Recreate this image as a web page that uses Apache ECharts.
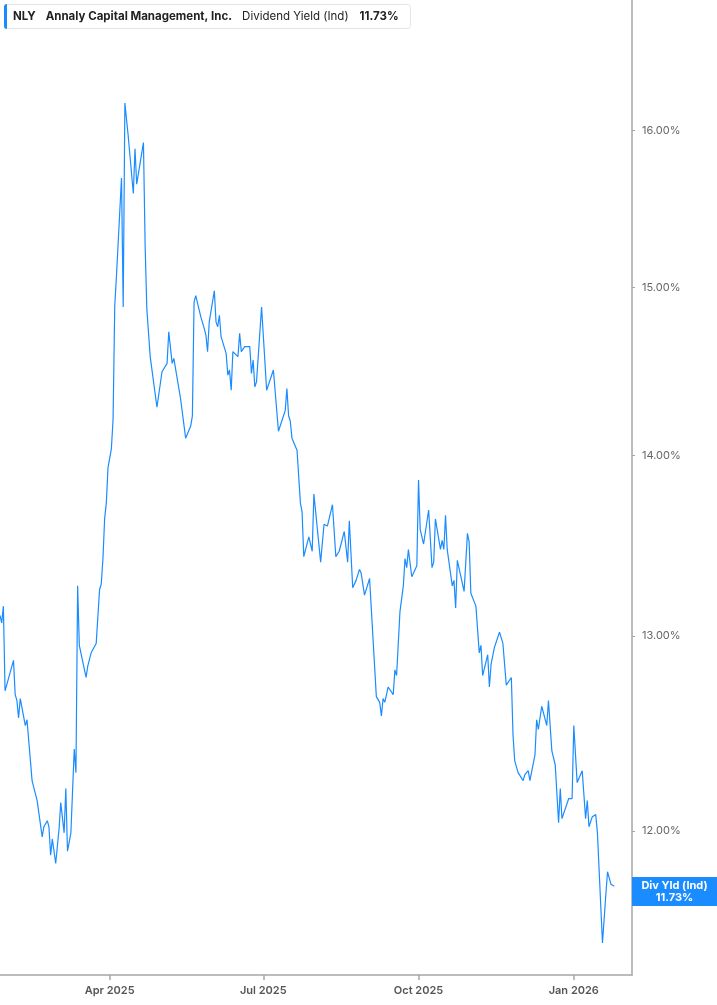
<!DOCTYPE html>
<html>
<head>
<meta charset="utf-8"/>
<title>NLY Dividend Yield</title>
<script src="https://cdn.jsdelivr.net/npm/echarts@6/dist/echarts.min.js"></script>
<style>
  html, body { margin: 0; padding: 0; background: #fff; }
  #chart { width: 717px; height: 1005px; }
</style>
</head>
<body>
<div id="chart"></div>
<script type="text/javascript">

// dividend yield (ind), %
var dates = [
  '2025-01-26','2025-01-27','2025-01-28','2025-01-29','2025-02-03','2025-02-04','2025-02-05','2025-02-06','2025-02-07','2025-02-10',
  '2025-02-11','2025-02-14','2025-02-17','2025-02-20','2025-02-21','2025-02-23','2025-02-24','2025-02-25','2025-02-26','2025-02-28',
  '2025-03-02','2025-03-03','2025-03-05','2025-03-06','2025-03-07','2025-03-09','2025-03-11','2025-03-12','2025-03-13','2025-03-14',
  '2025-03-18','2025-03-19','2025-03-21','2025-03-24','2025-03-26','2025-03-27','2025-03-28','2025-03-29','2025-03-30','2025-03-31',
  '2025-04-01','2025-04-02','2025-04-03','2025-04-04','2025-04-05','2025-04-08','2025-04-09','2025-04-10','2025-04-12','2025-04-15',
  '2025-04-16','2025-04-17','2025-04-21','2025-04-22','2025-04-23','2025-04-25','2025-04-29','2025-04-30','2025-05-02','2025-05-05',
  '2025-05-06','2025-05-08','2025-05-09','2025-05-13','2025-05-14','2025-05-16','2025-05-19','2025-05-20','2025-05-21','2025-05-22',
  '2025-05-25','2025-05-27','2025-05-28','2025-05-29','2025-05-30','2025-06-02','2025-06-03','2025-06-04','2025-06-05','2025-06-06',
  '2025-06-09','2025-06-10','2025-06-11','2025-06-12','2025-06-13','2025-06-16','2025-06-17','2025-06-18','2025-06-20','2025-06-23',
  '2025-06-24','2025-06-25','2025-06-26','2025-06-27','2025-06-30','2025-07-03','2025-07-07','2025-07-10','2025-07-12','2025-07-14',
  '2025-07-15','2025-07-16','2025-07-17','2025-07-18','2025-07-21','2025-07-23','2025-07-24','2025-07-25','2025-07-28','2025-07-30',
  '2025-07-31','2025-08-04','2025-08-06','2025-08-08','2025-08-11','2025-08-13','2025-08-15','2025-08-18','2025-08-20','2025-08-21',
  '2025-08-23','2025-08-25','2025-08-26','2025-08-27','2025-08-28','2025-08-30','2025-09-02','2025-09-06','2025-09-08','2025-09-09',
  '2025-09-10','2025-09-11','2025-09-13','2025-09-16','2025-09-17','2025-09-18','2025-09-20','2025-09-22','2025-09-23','2025-09-24',
  '2025-09-25','2025-09-27','2025-09-30','2025-10-01','2025-10-02','2025-10-04','2025-10-07','2025-10-09','2025-10-10','2025-10-11',
  '2025-10-14','2025-10-15','2025-10-16','2025-10-17','2025-10-18','2025-10-21','2025-10-22','2025-10-23','2025-10-24','2025-10-28',
  '2025-10-30','2025-10-31','2025-11-01','2025-11-04','2025-11-06','2025-11-07','2025-11-08','2025-11-11','2025-11-12','2025-11-13',
  '2025-11-14','2025-11-15','2025-11-18','2025-11-20','2025-11-21','2025-11-22','2025-11-25','2025-11-26','2025-11-27','2025-11-29',
  '2025-12-02','2025-12-03','2025-12-05','2025-12-06','2025-12-09','2025-12-10','2025-12-11','2025-12-13','2025-12-16','2025-12-17',
  '2025-12-19','2025-12-21','2025-12-23','2025-12-24','2025-12-25','2025-12-29','2025-12-31','2026-01-01','2026-01-03','2026-01-06',
  '2026-01-08','2026-01-09','2026-01-10','2026-01-12','2026-01-14','2026-01-15','2026-01-18','2026-01-20','2026-01-21','2026-01-23',
  '2026-01-25'
];
var yields = [
  13.11,13.07,13.16,12.71,12.87,12.69,12.66,12.57,12.67,12.53,
  12.56,12.25,12.15,11.97,12.02,12.05,12.02,11.88,11.96,11.84,
  12.01,12.14,11.99,12.21,11.90,11.99,12.41,12.29,13.27,12.95,
  12.78,12.84,12.91,12.96,13.25,13.28,13.42,13.64,13.73,13.93,
  13.92,14.04,14.21,14.89,15.07,15.69,14.88,16.18,15.96,15.59,
  15.88,15.65,15.92,15.26,14.87,14.58,14.28,14.29,14.49,14.54,
  14.73,14.54,14.57,14.33,14.34,14.10,14.17,14.23,14.91,14.95,
  14.82,14.75,14.71,14.61,14.79,14.98,14.79,14.76,14.83,14.70,
  14.60,14.47,14.50,14.38,14.61,14.58,14.72,14.61,14.64,14.64,
  14.48,14.56,14.40,14.43,14.88,14.38,14.50,14.14,14.20,14.26,
  14.39,14.23,14.20,14.10,14.03,13.73,13.68,13.43,13.54,13.46,
  13.78,13.40,13.61,13.60,13.72,13.43,13.46,13.57,13.40,13.63,
  13.26,13.30,13.29,13.36,13.34,13.22,13.31,12.68,12.65,12.58,
  12.67,12.65,12.73,12.69,12.82,12.79,13.13,13.27,13.42,13.37,
  13.47,13.32,13.38,13.86,13.58,13.50,13.69,13.37,13.40,13.64,
  13.47,13.52,13.47,13.66,13.47,13.27,13.30,13.15,13.41,13.24,
  13.56,13.51,13.23,13.16,12.91,12.95,12.79,12.90,12.73,12.85,
  12.86,12.94,13.02,12.96,12.95,12.74,12.78,12.48,12.35,12.29,
  12.25,12.28,12.30,12.25,12.38,12.56,12.51,12.63,12.53,12.66,
  12.40,12.33,12.04,12.21,12.06,12.16,12.16,12.53,12.24,12.30,
  12.06,12.15,12.02,12.07,12.08,11.99,11.46,11.69,11.80,11.74,
  11.73
];

var yTicks = [12, 13, 14, 15, 16];
var xTicks = ['2025-04-01', '2025-07-01', '2025-10-01', '2026-01-01'];
var monthNames = ['Jan','Feb','Mar','Apr','May','Jun','Jul','Aug','Sep','Oct','Nov','Dec'];

var ticker = 'NLY';
var company = 'Annaly Capital Management, Inc.';
var metric = 'Dividend Yield (Ind)';
var lastYield = yields[yields.length - 1];

var blue = '#1a8cff';
var axisGrey = '#a6a6a6';
var font = 'Inter, "Noto Sans", sans-serif';

function ts(s) { return new Date(s).getTime(); }

// chart has a log price scale -> plot ln(value) on a value axis
var seriesData = [];
for (var i = 0; i < dates.length; i++) {
    seriesData.push([ts(dates[i]), Math.log(yields[i])]);
}

var chart = echarts.init(document.getElementById('chart'));

var option = {
    animation: false,
    textStyle: { fontFamily: font },
    title: {
        left: 4,
        top: 4,
        padding: [0, 12, 0, 0],
        backgroundColor: '#fff',
        borderColor: '#e4e4e4',
        borderWidth: 1,
        borderRadius: 3,
        text: '{bar|}{sym|' + ticker + '}{name|' + company + '}{metric|' + metric + '}{val|' + lastYield.toFixed(2) + '%}',
        textStyle: {
            rich: {
                bar: { backgroundColor: blue, width: 3, height: 25, borderRadius: [3, 0, 0, 3] },
                sym: { fontFamily: font, fontSize: 11.5, fontWeight: 'bold', color: '#222', padding: [0, 0, 0, 6] },
                name: { fontFamily: font, fontSize: 11.5, fontWeight: 'bold', color: '#222', padding: [0, 0, 0, 10] },
                metric: { fontFamily: font, fontSize: 11.5, fontWeight: 'normal', color: '#222', padding: [0, 0, 0, 10] },
                val: { fontFamily: font, fontSize: 11.5, fontWeight: 'bold', color: '#222', padding: [0, 0, 0, 11] }
            }
        }
    },
    grid: {
        left: 0,
        right: 85,
        top: 0,
        bottom: 30,
        containLabel: false,
        outerBoundsMode: 'none'
    },
    xAxis: {
        type: 'value',
        min: ts('2025-01-26'),
        max: ts('2026-02-04T12:00:00Z'),
        axisLine: { show: true, lineStyle: { color: axisGrey, width: 1.5 } },
        axisTick: { show: true, customValues: xTicks.map(ts), length: 5, lineStyle: { color: axisGrey, width: 1.5 } },
        axisLabel: {
            customValues: xTicks.map(ts),
            color: '#555',
            fontSize: 11,
            fontWeight: 600,
            margin: 10,
            formatter: function (v) {
                var d = new Date(v);
                return monthNames[d.getUTCMonth()] + ' ' + d.getUTCFullYear();
            }
        },
        splitLine: { show: false }
    },
    yAxis: {
        type: 'value',
        position: 'right',
        min: Math.log(11.31),
        max: Math.log(16.88),
        axisLine: { show: true, lineStyle: { color: axisGrey, width: 1.5 } },
        axisTick: { show: true, customValues: yTicks.map(Math.log), length: 3, lineStyle: { color: axisGrey } },
        axisLabel: {
            customValues: yTicks.map(Math.log),
            color: '#666',
            fontSize: 11,
            margin: 10,
            formatter: function (v) {
                return Math.exp(v).toFixed(2) + '%';
            }
        },
        splitLine: { show: false }
    },
    series: [{
        name: metric,
        type: 'line',
        data: seriesData,
        showSymbol: false,
        symbol: 'none',
        lineStyle: { color: blue, width: 1.2 },
        markLine: {
            silent: true,
            symbol: 'none',
            lineStyle: { color: 'rgba(0,0,0,0)', width: 1 },
            data: [{ yAxis: Math.log(lastYield) }],
            label: {
                show: true,
                position: 'end',
                distance: 0,
                backgroundColor: blue,
                padding: [3, 0, 2, 0],
                formatter: '{t|Div Yld (Ind)}\n{t|' + lastYield.toFixed(2) + '%}',
                rich: {
                    t: { width: 85, align: 'center', color: '#fff', fontFamily: font, fontSize: 11, fontWeight: 'bold', lineHeight: 12 }
                }
            },
            emphasis: { disabled: true }
        }
    }]
};

chart.setOption(option);

</script>
</body>
</html>
